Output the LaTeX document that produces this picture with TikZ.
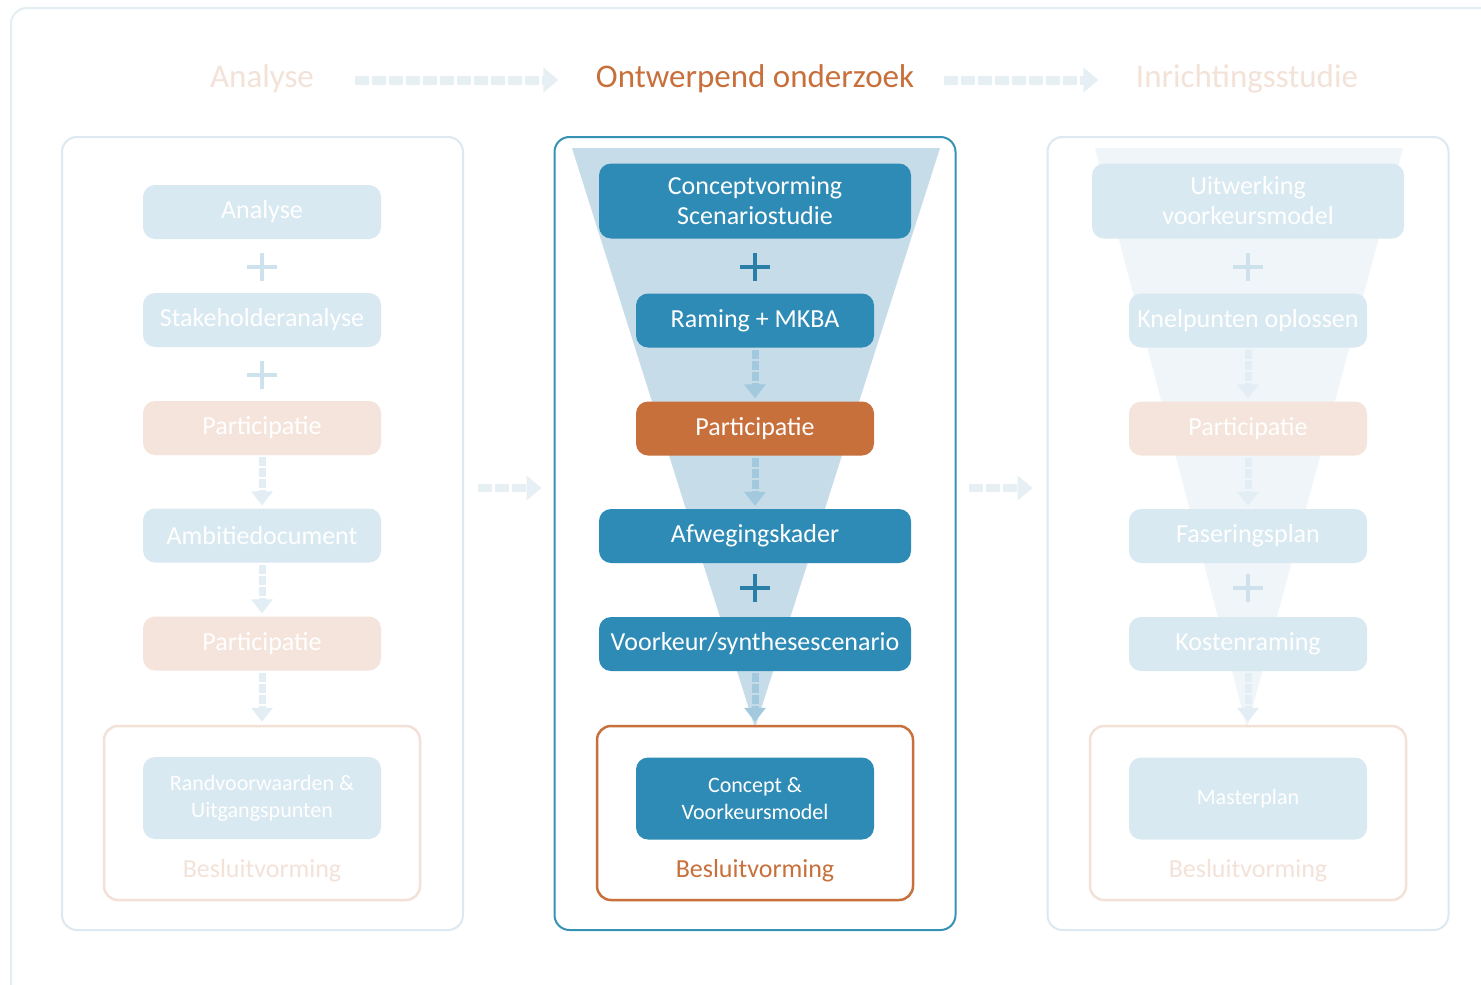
\documentclass[tikz,border=0pt]{standalone}
\usepackage{fontspec}
\setmainfont{Carlito}
\usetikzlibrary{arrows.meta}
\definecolor{framec}{HTML}{E3EEF3}
\definecolor{panelc}{HTML}{DCE9F0}
\definecolor{tealc}{HTML}{3592B3}
\definecolor{cblue}{HTML}{2E8BB6}
\definecolor{corange}{HTML}{C8703B}
\definecolor{lblue}{HTML}{D9E9F1}
\definecolor{lorange}{HTML}{F5E4DB}
\definecolor{ltitle}{HTML}{F3E2D8}
\definecolor{lborder}{HTML}{F3E1D7}
\definecolor{funnelc}{HTML}{C6DCE9}
\definecolor{funnell}{HTML}{EFF5F8}
\definecolor{plusc}{HTML}{2A7FA8}
\definecolor{plusl}{HTML}{CDE2EC}
\definecolor{arrc}{HTML}{A3C9DE}
\definecolor{arrl}{HTML}{E3EEF4}
\definecolor{harrc}{HTML}{E5EFF4}
\tikzset{
  box/.style={rectangle, rounded corners=12pt, minimum width=238pt, minimum height=54pt,
    inner sep=0pt, text=white, align=center, font=\fontsize{26}{30}\selectfont},
  widebox/.style={box, minimum width=312pt},
  tallbox/.style={box, minimum width=312pt, minimum height=75pt},
  smallfont/.style={font=\fontsize{22}{27}\selectfont},
  panel/.style={rectangle, rounded corners=15pt, minimum width=401pt, minimum height=793pt, fill=white},
  decbox/.style={rectangle, rounded corners=14pt, minimum width=316pt, minimum height=174pt, line width=2.5pt},
  declabel/.style={font=\fontsize{26}{30}\selectfont},
  titletext/.style={font=\fontsize{33}{38}\selectfont},
  varrow/.style={line width=7pt, dash pattern=on 9pt off 2pt, -{Triangle[width=21pt,length=14pt]}, shorten >=3pt, shorten <=2pt},
  harrow/.style={line width=9pt, dash pattern=on 14pt off 3pt, -{Triangle[width=24pt,length=15pt]}},
  plussign/.style={line width=4pt},
}
\begin{document}
\begin{tikzpicture}[x=1pt,y=-1pt]
\useasboundingbox (0,0) rectangle (1481,985);
\fill[white] (0,0) rectangle (1481,985);
\draw[framec, line width=2pt, rounded corners=16pt] (11,8) rectangle (1510,1010);

% titles
\node[titletext, text=ltitle] (tA) at (262,79) {Analyse};
\node[titletext, text=corange] (tB) at (755,79) {Ontwerpend onderzoek};
\node[titletext, text=ltitle] (tC) at (1247,79) {Inrichtingsstudie};
\draw[harrow, harrc] ([xshift=38pt,yshift=-1pt]tA.east) -- ([xshift=-34pt,yshift=-1pt]tB.west);
\draw[harrow, harrc] ([xshift=26pt,yshift=-1pt]tB.east) -- ([xshift=-34pt,yshift=-1pt]tC.west);

% panels
\node[panel, draw=panelc, line width=2pt] (pL) at (262.5,533.5) {};
\node[panel, draw=tealc, line width=2pt] (pC) at (755,533.5) {};
\node[panel, draw=panelc, line width=2pt] (pR) at (1248,533.5) {};
\draw[harrow, harrc, line width=8pt] ([xshift=14pt,yshift=45.5pt]pL.east) -- ([xshift=-12pt,yshift=45.5pt]pC.west);
\draw[harrow, harrc, line width=8pt] ([xshift=12pt,yshift=45.5pt]pC.east) -- ([xshift=-14pt,yshift=45.5pt]pR.west);

% funnels
\fill[funnelc] (572,148) -- (940,148) -- (755,728) -- cycle;
\fill[funnell] (1095,148) -- (1403,148) -- (1247,728) -- cycle;

% ===== left column =====
\node[box, fill=lblue] (a1) at (262,212) {Analyse};
\node[box, fill=lblue] (a2) at (262,320) {Stakeholderanalyse};
\node[box, fill=lorange] (a3) at (262,428) {Participatie};
\node[box, fill=lblue] (a4) at (262,535.5) {Ambitiedocument};
\node[box, fill=lorange] (a5) at (262,643.5) {Participatie};
\node[decbox, draw=lborder] (ad) at (262,813) {};
\node[box, smallfont, fill=lblue, minimum height=82pt] (a6) at (262,798) {Randvoorwaarden \&\\Uitgangspunten};
\node[declabel, text=ltitle] (al) at (262,871) {Besluitvorming};
\draw[plusl, plussign] (247,267) -- (277,267) (262,253) -- (262,281);
\draw[plusl, plussign] (247,375) -- (277,375) (262,361) -- (262,389);
\draw[varrow, arrl] (a3.south) -- (a4.north);
\draw[varrow, arrl] (a4.south) -- (a5.north);
\draw[varrow, arrl] (a5.south) -- (ad.north);

% ===== center column =====
\node[tallbox, fill=cblue] (c1) at (755,201) {Conceptvorming\\Scenariostudie};
\node[box, fill=cblue] (c2) at (755,320.5) {Raming + MKBA};
\node[box, fill=corange] (c3) at (755,428.5) {Participatie};
\node[widebox, fill=cblue] (c4) at (755,536) {Afwegingskader};
\node[widebox, fill=cblue] (c5) at (755,644) {Voorkeur/synthesescenario};
\node[decbox, draw=corange] (cd) at (755,813) {};
\node[box, smallfont, fill=cblue, minimum height=82pt] (c6) at (755,798.5) {Concept \&\\Voorkeursmodel};
\node[declabel, text=corange] (cl) at (755,871) {Besluitvorming};
\draw[plusc, plussign] (740,267) -- (770,267) (755,253) -- (755,281);
\draw[plusc, plussign] (740,588) -- (770,588) (755,574) -- (755,602);
\draw[varrow, arrc] (c2.south) -- (c3.north);
\draw[varrow, arrc] (c3.south) -- (c4.north);
\draw[varrow, arrc] (c5.south) -- (cd.north);

% ===== right column =====
\node[tallbox, fill=lblue] (r1) at (1248,201) {Uitwerking\\voorkeursmodel};
\node[box, fill=lblue] (r2) at (1248,320.5) {Knelpunten oplossen};
\node[box, fill=lorange] (r3) at (1248,428.5) {Participatie};
\node[box, fill=lblue] (r4) at (1248,536) {Faseringsplan};
\node[box, fill=lblue] (r5) at (1248,644) {Kostenraming};
\node[decbox, draw=lborder] (rd) at (1248,813) {};
\node[box, smallfont, fill=lblue, minimum height=82pt] (r6) at (1248,798.5) {Masterplan};
\node[declabel, text=ltitle] (rl) at (1248,871) {Besluitvorming};
\draw[plusl, plussign] (1233,267) -- (1263,267) (1248,253) -- (1248,281);
\draw[plusl, plussign] (1233,588) -- (1263,588) (1248,574) -- (1248,602);
\draw[varrow, arrl] (r2.south) -- (r3.north);
\draw[varrow, arrl] (r3.south) -- (r4.north);
\draw[varrow, arrl] (r5.south) -- (rd.north);
\end{tikzpicture}
\end{document}
